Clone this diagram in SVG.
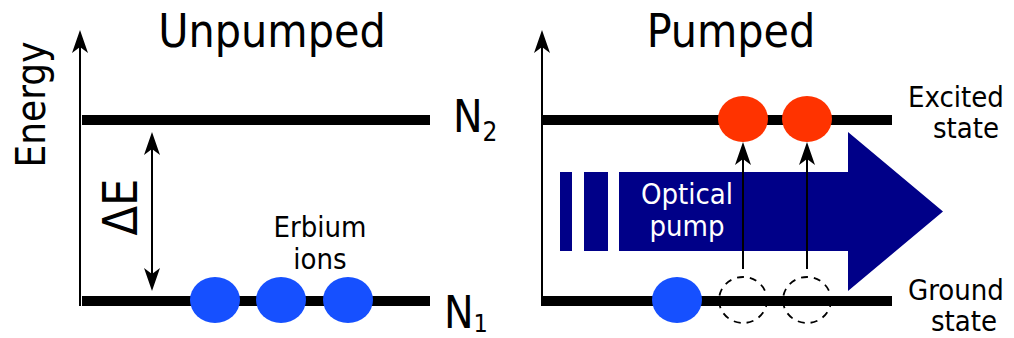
<svg xmlns="http://www.w3.org/2000/svg" width="1014" height="338" viewBox="0 0 1014 338">
  <defs>
    <style>
      text { font-family: "DejaVu Sans Condensed", "DejaVu Sans", sans-serif; font-stretch: condensed; fill: #000; }
      .title { font-size: 46px; text-anchor: middle; }
      .lbl { font-size: 29px; }
      .level { stroke: #000; stroke-width: 10; fill: none; }
      .axis { stroke: #000; stroke-width: 2; fill: none; marker-end: url(#ah); }
      .thin { stroke: #000; stroke-width: 2; fill: none; }
      .ion { fill: #1650ff; }
      .exc { fill: #ff3300; }
      .hole { fill: none; stroke: #000; stroke-width: 1.8; stroke-dasharray: 7 6; }
      .pump { fill: #000088; }
    </style>
    <!-- swept-back arrowhead, tip 10px past the line end -->
    <marker id="ah" markerUnits="userSpaceOnUse" markerWidth="24" markerHeight="18" viewBox="0 -9 24 18" refX="12" refY="0" orient="auto-start-reverse">
      <path d="M23,0 L0,-8 L6,0 L0,8 Z" fill="#000"/>
    </marker>
  </defs>

  <rect width="1014" height="338" fill="#fff"/>

  <!-- left panel: unpumped -->
  <g id="unpumped">
    <text class="title" x="272" y="47">Unpumped</text>
    <text style="font-size:40px" text-anchor="middle" transform="translate(45,104.5) rotate(-90)">Energy</text>
    <line class="level" x1="82" y1="120" x2="430" y2="120"/>
    <line class="level" x1="82" y1="301" x2="430" y2="301"/>
    <text x="453" y="132" style="font-size:44px">N<tspan style="font-size:26px" dy="9">2</tspan></text>
    <text x="444" y="328" style="font-size:44px">N<tspan style="font-size:25px" dy="4">1</tspan></text>
    <text style="font-size:48px" text-anchor="middle" transform="translate(137,207) rotate(-90)">ΔE</text>
    <text x="320" y="237" text-anchor="middle" style="font-size:29px">Erbium</text>
    <text x="320" y="269" text-anchor="middle" style="font-size:29px">ions</text>
  </g>

  <g id="ions-ground-left">
    <ellipse class="ion" cx="215" cy="300" rx="25" ry="23"/>
    <ellipse class="ion" cx="281" cy="300" rx="25" ry="23"/>
    <ellipse class="ion" cx="348" cy="300" rx="25" ry="23"/>
  </g>

  <!-- right panel: pumped -->
  <g id="pumped">
    <text class="title" x="731" y="47">Pumped</text>
    <line class="level" x1="543" y1="120" x2="892" y2="120"/>
    <line class="level" x1="543" y1="301" x2="892" y2="301"/>
    <text class="lbl" x="908" y="107">Excited</text>
    <text class="lbl" x="933" y="138">state</text>
    <text class="lbl" x="908" y="300">Ground</text>
    <text class="lbl" x="931" y="331">state</text>
  </g>

  <g id="optical-pump">
    <rect class="pump" x="560" y="172" width="12" height="79"/>
    <rect class="pump" x="584" y="172" width="24" height="79"/>
    <path class="pump" d="M619,172 H848 V132 L943,211.5 L848,291 V251 H619 Z"/>
    <text x="687" y="204" text-anchor="middle" style="font-size:29px;fill:#fff">Optical</text>
    <text x="687" y="236" text-anchor="middle" style="font-size:29px;fill:#fff">pump</text>
  </g>

  <g id="ions-right">
    <ellipse class="exc" cx="743" cy="119" rx="25" ry="23"/>
    <ellipse class="exc" cx="807" cy="119" rx="25" ry="23"/>
    <ellipse class="ion" cx="677" cy="300" rx="25" ry="23"/>
    <ellipse class="hole" cx="743" cy="300" rx="24" ry="23"/>
    <ellipse class="hole" cx="807" cy="300" rx="24" ry="23"/>
  </g>

  <!-- connectors: energy axes, gap arrow, excitation arrows -->
  <g id="connectors">
    <line class="axis" x1="80" y1="306" x2="80" y2="41"/>
    <line class="axis" x1="542" y1="306" x2="542" y2="41"/>
    <line class="thin" x1="152" y1="143" x2="152" y2="280" marker-start="url(#ah)" marker-end="url(#ah)"/>
    <line class="axis" x1="743" y1="269" x2="743" y2="153"/>
    <line class="axis" x1="807" y1="269" x2="807" y2="153"/>
  </g>
</svg>
